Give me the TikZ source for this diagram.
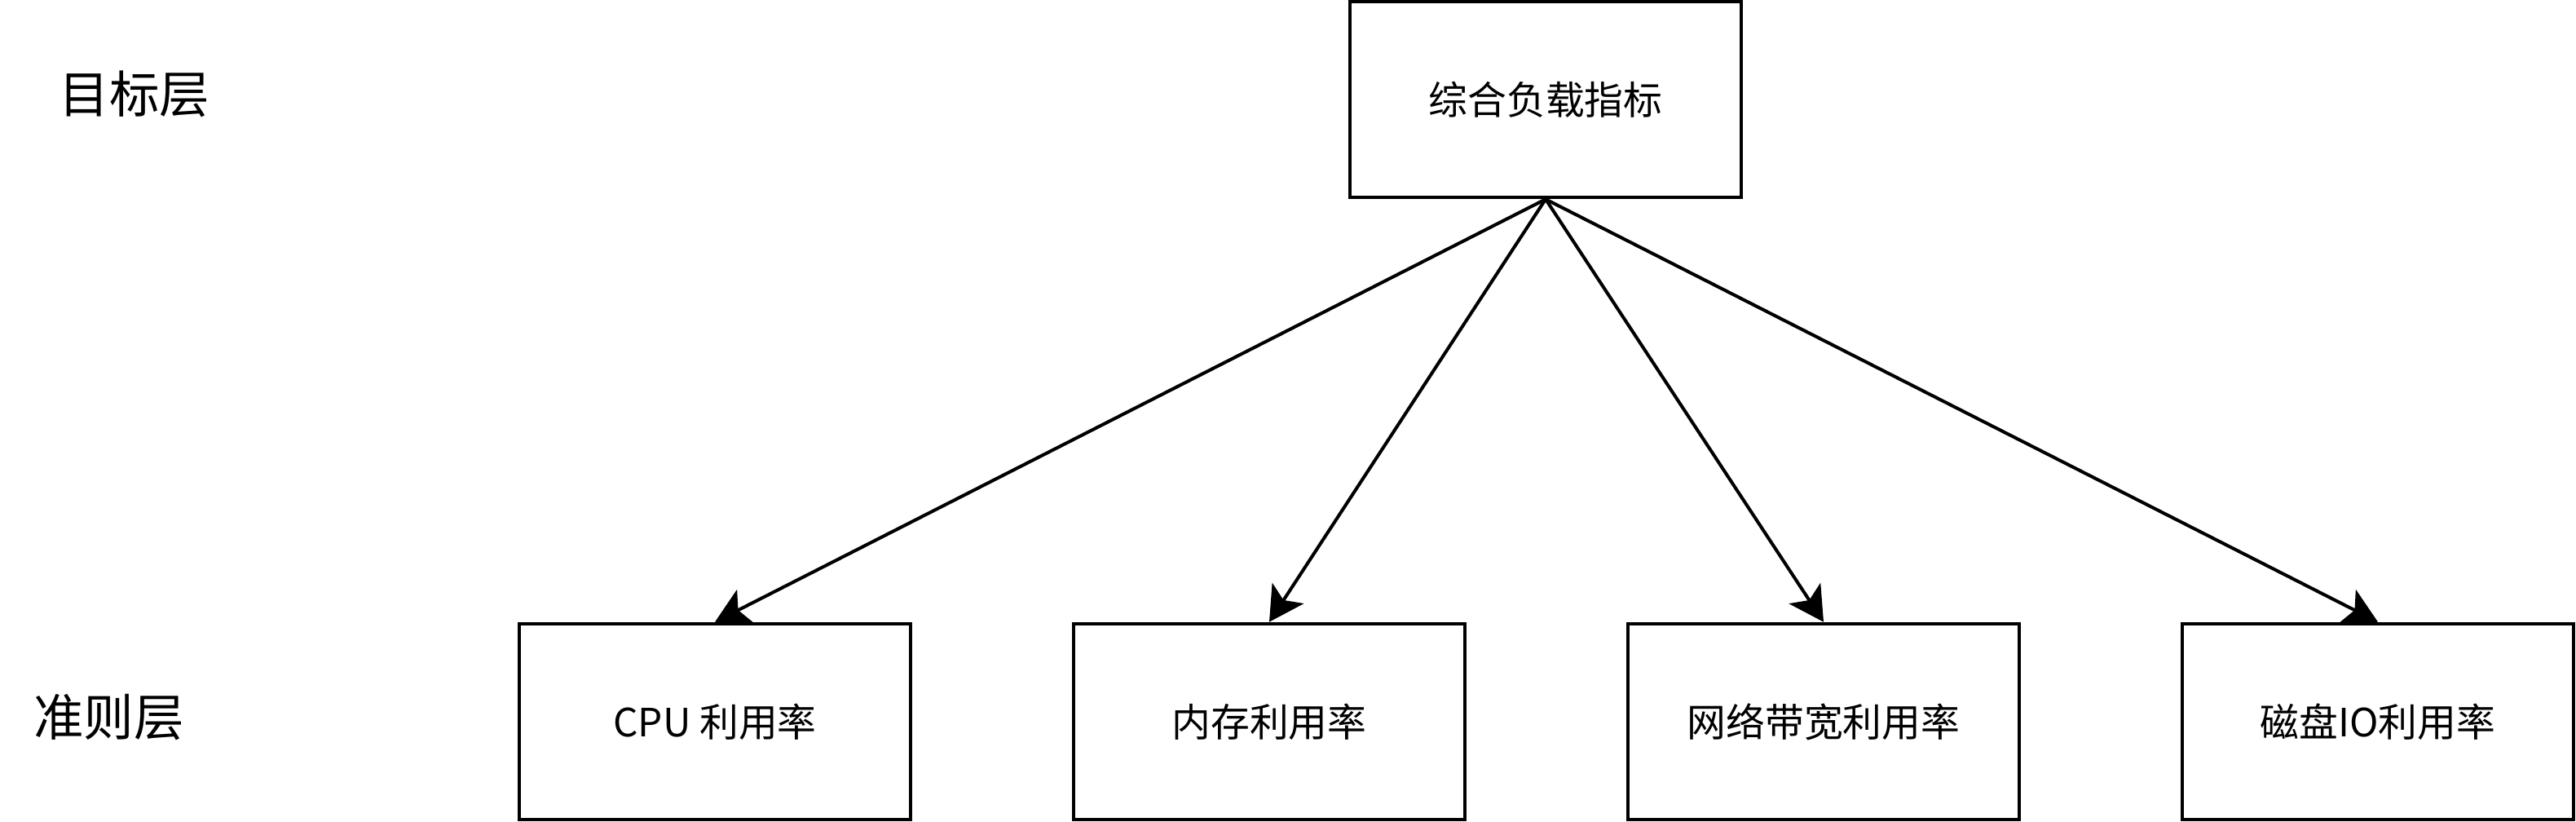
\documentclass[tikz,border=0pt]{standalone}
\usepackage{fontspec}
\setmainfont{Noto Sans CJK SC}
\usetikzlibrary{arrows.meta}

\begin{document}
\begin{tikzpicture}[x=1cm,y=1cm,
   box/.style={draw,line width=1.3pt,minimum width=4.8cm,minimum height=2.4cm,inner sep=0pt,font=\fontsize{13.6}{16}\selectfont},
   layer/.style={inner sep=0pt,font=\fontsize{17.5}{20}\selectfont},
   link/.style={line width=1.15pt,-{Stealth[length=0.42cm,width=0.46cm,inset=0.1cm]}}]
   \useasboundingbox (0,0) rectangle (31.6,-10.08);
   \node[layer] (goal) at (1.65,-1.15) {目标层};
   \node[layer] (crit) at (1.335,-8.8) {准则层};
   \node[box] (load) at (18.96,-1.22) {综合负载指标};
   \node[box] (cpu) at (8.77,-8.85) {CPU 利用率};
   \node[box] (mem) at (15.57,-8.85) {内存利用率};
   \node[box] (net) at (22.37,-8.85) {网络带宽利用率};
   \node[box] (disk) at (29.17,-8.85) {磁盘IO利用率};
   \draw[link] (load.south) -- (cpu.north);
   \draw[link] (load.south) -- (mem.north);
   \draw[link] (load.south) -- (net.north);
   \draw[link] (load.south) -- (disk.north);
\end{tikzpicture}
\end{document}
